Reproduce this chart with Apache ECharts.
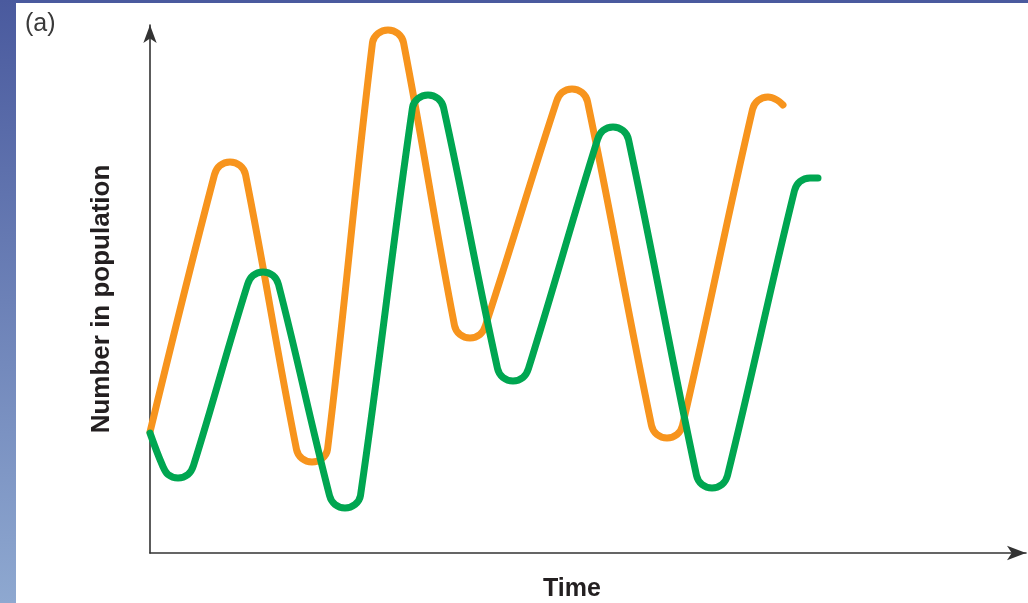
<!DOCTYPE html>
<html>
<head>
<meta charset="utf-8">
<style>
html,body{margin:0;padding:0;background:#fff;}
#chart{width:1028px;height:603px;}
</style>
<script src="https://cdn.jsdelivr.net/npm/echarts@6/dist/echarts.min.js"></script>
</head>
<body>
<div id="chart"></div>
<script>
// Points (time units, population units).
// Each rounded peak / trough is given by a few points on its bend.
var orangeTime  = [0,
  64.5, 70, 80, 90, 95.5,
  146.5, 152, 162, 172, 177.5,
  222.5, 228, 238, 248, 253.5,
  304.5, 310, 320, 330, 335.5,
  406.5, 412, 422, 432, 437.5,
  501.5, 507, 517, 527, 532.5,
  602.5, 608, 618, 627, 633];
var orangeCount = [121,
  378.5, 387.5, 391, 387.5, 378.5,
  103.5, 94.5, 91, 94.5, 103.5,
  510.5, 519.5, 523, 519.5, 510.5,
  227.5, 218.5, 215, 218.5, 227.5,
  451.5, 460.5, 464, 460.5, 451.5,
  127.5, 118.5, 115, 118.5, 127.5,
  443.5, 452.5, 456, 453, 448];
var greenTime   = [0,
  12.5, 18, 28, 38, 43.5,
  97.5, 103, 113, 123, 128.5,
  179.5, 185, 195, 205, 210.5,
  262.5, 268, 278, 288, 293.5,
  347.5, 353, 363, 373, 378.5,
  447.5, 453, 463, 473, 478.5,
  546.5, 552, 562, 572, 577.5,
  644.5, 650, 660, 668];
var greenCount  = [120,
  87.5, 78.5, 75, 78.5, 87.5,
  268.5, 277.5, 281, 277.5, 268.5,
  57.5, 48.5, 45, 48.5, 57.5,
  445.5, 454.5, 458, 454.5, 445.5,
  184.5, 175.5, 172, 175.5, 184.5,
  413.5, 422.5, 426, 422.5, 413.5,
  77.5, 68.5, 65, 68.5, 77.5,
  362.5, 371.5, 375, 375];
var xTitle = 'Time';
var yTitle = 'Number in population';
var panelLabel = '(a)';

function pairs(xs, ys){ return xs.map(function(x,i){ return [x, ys[i]]; }); }

var chart = echarts.init(document.getElementById('chart'));
var font = "'Liberation Sans', Arial, Helvetica, sans-serif";
chart.setOption({
  animation:false,
  backgroundColor:'#fff',
  grid:{left:150, right:2, top:25, bottom:50},
  graphic:[
    {type:'rect', left:0, top:0, shape:{width:1028, height:3}, style:{fill:'#4a5a9e'}, z:10},
    {type:'rect', left:0, top:0, shape:{width:16, height:603},
     style:{fill:new echarts.graphic.LinearGradient(0,0,0,1,[{offset:0,color:'#4a5a9e'},{offset:1,color:'#8ea8d0'}])}, z:10},
    {type:'text', left:25, top:12, style:{text:panelLabel, font:'25px '+font, fill:'#3a3a3a'}, z:10},
    {type:'text', x:572, y:589, style:{text:xTitle, font:'bold 25px '+font, fill:'#231f20', align:'center', verticalAlign:'middle'}, z:10},
    {type:'text', x:102, y:299, rotation:Math.PI/2, style:{text:yTitle, font:'bold 26px '+font, fill:'#231f20', align:'center', verticalAlign:'middle'}, z:10}
  ],
  xAxis:{type:'value', min:0, max:876,
    axisLine:{show:true, symbol:['none','arrow'], symbolSize:[11,19], lineStyle:{color:'#333', width:1.6}},
    axisTick:{show:false}, axisLabel:{show:false}, splitLine:{show:false}},
  yAxis:{type:'value', min:0, max:528,
    axisLine:{show:true, symbol:['none','arrow'], symbolSize:[10,18], lineStyle:{color:'#333', width:1.6}},
    axisTick:{show:false}, axisLabel:{show:false}, splitLine:{show:false}},
  series:[
    {type:'line', data:pairs(orangeTime, orangeCount), showSymbol:false, smooth:0.4,
     lineStyle:{color:'#f7941d', width:7, cap:'round', join:'round'}, z:2},
    {type:'line', data:pairs(greenTime, greenCount), showSymbol:false, smooth:0.4,
     lineStyle:{color:'#00a651', width:7, cap:'round', join:'round'}, z:3}
  ]
});
</script>
</body>
</html>
